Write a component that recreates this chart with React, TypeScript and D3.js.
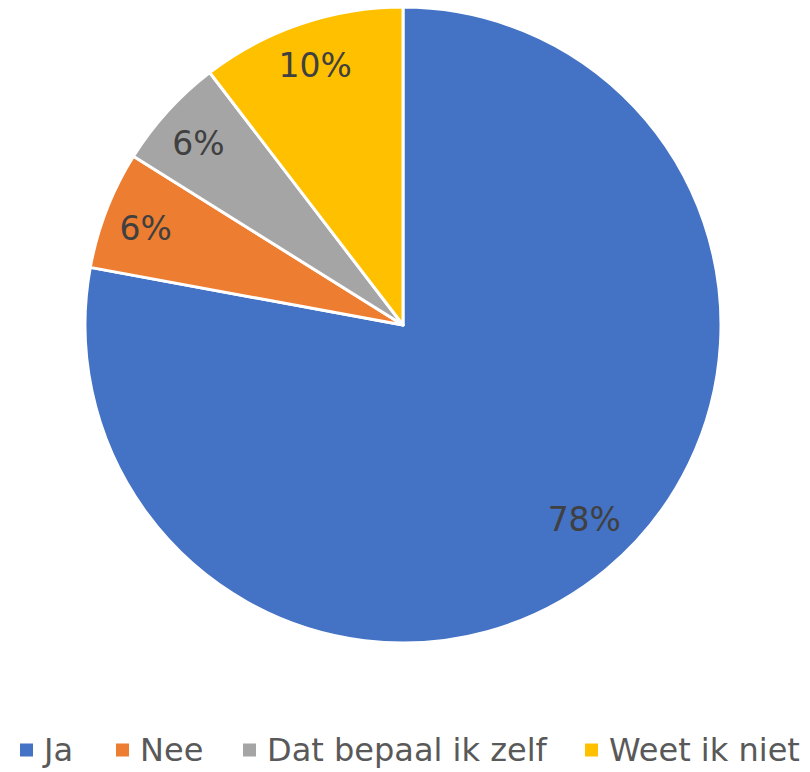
import React from "react";
import * as d3 from "d3";

const categories = ["Ja", "Nee", "Dat bepaal ik zelf", "Weet ik niet"];
const values = [77.9, 6.0, 5.7, 10.4];
const labels = ["78%", "6%", "6%", "10%"];
const colors = ["#4472C4", "#ED7D31", "#A5A5A5", "#FFC000"];

const W = 810;
const H = 772;
const cx = 403;
const cy = 325;
const R = 318;
const FONT = "'DejaVu Sans', Verdana, sans-serif";
const legendFontSize = 32;
const labelFontSize = 33;
const labelR = 274;
// small layout nudges for Excel-like label placement
const labelShift: Record<string, [number, number]> = { Ja: [6, -16], Nee: [-2, 3], "Dat bepaal ik zelf": [-2, 3] };
// legend item left edges (layout)
const legendLeft = [20, 116, 243, 585];

export default function App() {
  const data = categories.map((c, i) => ({ name: c, value: values[i], label: labels[i], color: colors[i] }));
  const pie = d3.pie<any>().value((d) => d.value).sort(null).startAngle(0).endAngle(2 * Math.PI);
  const arcs = pie(data);
  const arc = d3.arc<any>().innerRadius(0).outerRadius(R);
  const labelArc = d3.arc<any>().innerRadius(labelR).outerRadius(labelR);

  const sq = 13;
  const sqGap = 11;
  const legendY = 750;

  return (
    <svg width={W} height={H} style={{ position: "absolute", left: 0, top: 0, background: "#fff" }}>
      <g transform={`translate(${cx},${cy})`}>
        {arcs.map((a, i) => (
          <path key={i} d={arc(a) as string} fill={a.data.color} stroke="#fff" strokeWidth={3} strokeLinejoin="round" />
        ))}
        {arcs.map((a, i) => {
          const [lx, ly] = labelArc.centroid(a);
          const s = labelShift[a.data.name] || [0, 0];
          return (
            <text
              key={"l" + i}
              x={lx + s[0]}
              y={ly + s[1]}
              textAnchor="middle"
              dominantBaseline="central"
              fontFamily={FONT}
              fontSize={labelFontSize}
              fill="#404040"
            >
              {a.data.label}
            </text>
          );
        })}
      </g>
      <g>
        {data.map((d, i) => (
          <g key={"lg" + i} transform={`translate(${legendLeft[i]},${legendY})`}>
            <rect x={0} y={-sq / 2} width={sq} height={sq} fill={d.color} />
            <text
              x={sq + sqGap}
              y={0}
              dominantBaseline="central"
              fontFamily={FONT}
              fontSize={legendFontSize}
              fill="#595959"
            >
              {d.name}
            </text>
          </g>
        ))}
      </g>
    </svg>
  );
}
